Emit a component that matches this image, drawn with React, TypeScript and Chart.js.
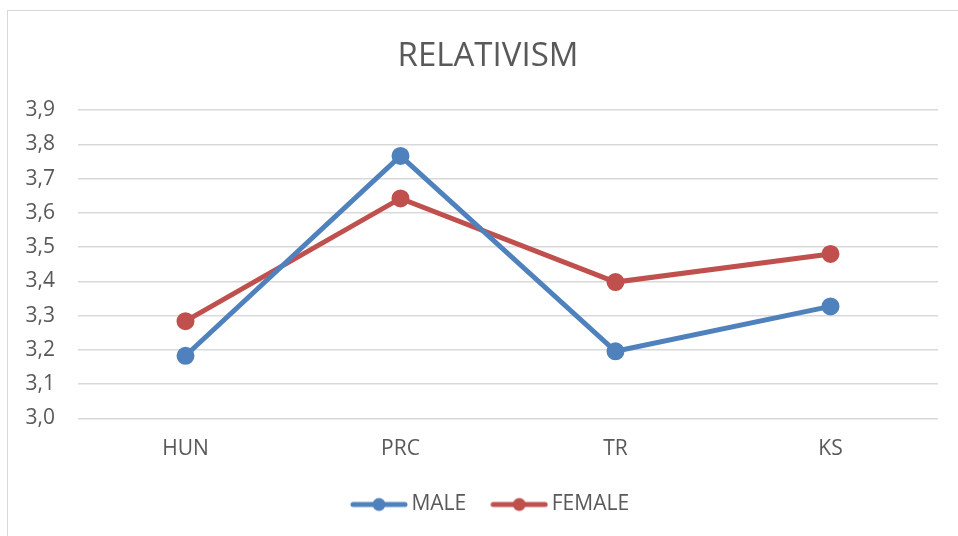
import React, { useEffect, useRef } from "react";
import { Chart, registerables } from "chart.js";

Chart.register(...registerables);

const categories = ["HUN", "PRC", "TR", "KS"];
const maleValues = [3.183, 3.766, 3.196, 3.327];
const femaleValues = [3.284, 3.642, 3.398, 3.48];
const yTicks = [3.0, 3.1, 3.2, 3.3, 3.4, 3.5, 3.6, 3.7, 3.8, 3.9];
const titleText = "RELATIVISM";
const seriesNames = ["MALE", "FEMALE"];

const BLUE = "#4F81BD";
const RED = "#C0504D";
const TEXT = "#595959";
const GRID = "#D9D9D9";
const FONT = "'Open Sans', 'Noto Sans', sans-serif";

function legendIcon(color: string): HTMLCanvasElement {
  const c = document.createElement("canvas");
  c.width = 58;
  c.height = 16;
  const ctx = c.getContext("2d")!;
  ctx.strokeStyle = color;
  ctx.lineWidth = 5;
  ctx.lineCap = "round";
  ctx.beginPath();
  ctx.moveTo(3, 8);
  ctx.lineTo(55, 8);
  ctx.stroke();
  ctx.fillStyle = color;
  ctx.beginPath();
  ctx.arc(29, 8, 6.5, 0, Math.PI * 2);
  ctx.fill();
  return c;
}

// let the y tick labels extend left of the (narrow) y scale box without being clipped,
// and nudge the legend slightly to the right
const layoutTweaks = {
  id: "layoutTweaks",
  afterLayout(chart: any) {
    if (chart.scales.y) chart.scales.y.left = 0;
    if (chart.legend) {
      chart.legend.left += 5;
      chart.legend.right += 5;
    }
  },
};

export default function App() {
  const ref = useRef<HTMLCanvasElement>(null);

  useEffect(() => {
    document.body.style.margin = "0";
    document.body.style.overflow = "hidden";
    const icons = [legendIcon(BLUE), legendIcon(RED)];
    const chart = new Chart(ref.current!, {
      type: "line",
      plugins: [layoutTweaks],
      data: {
        labels: categories,
        datasets: [
          {
            label: seriesNames[0],
            data: maleValues,
            borderColor: BLUE,
            backgroundColor: BLUE,
            borderWidth: 5,
            pointRadius: 6.5,
            pointHoverRadius: 6.5,
            pointStyle: "circle",
          },
          {
            label: seriesNames[1],
            data: femaleValues,
            borderColor: RED,
            backgroundColor: RED,
            borderWidth: 5,
            pointRadius: 6.5,
            pointHoverRadius: 6.5,
            pointStyle: "circle",
          },
        ],
      },
      options: {
        animation: false,
        responsive: false,
        layout: { padding: { left: 38, right: 20, top: 37, bottom: 11 } },
        plugins: {
          tooltip: { enabled: false },
          title: {
            display: true,
            text: titleText,
            color: TEXT,
            font: { family: FONT, size: 33, weight: "normal" },
            padding: { top: 0, bottom: 33.4 },
          },
          legend: {
            position: "bottom",
            labels: {
              usePointStyle: true,
              pointStyleWidth: 44,
              color: TEXT,
              font: { family: FONT, size: 21 },
              padding: 31,
              generateLabels: (chart: any) =>
                chart.data.datasets.map((ds: any, i: number) => ({
                  text: ds.label,
                  fillStyle: ds.borderColor,
                  strokeStyle: ds.borderColor,
                  lineWidth: 0,
                  pointStyle: icons[i],
                  fontColor: TEXT,
                  hidden: false,
                  datasetIndex: i,
                })),
            },
          },
        },
        scales: {
          x: {
            offset: true,
            grid: { display: false, drawTicks: false },
            border: { display: false },
            afterFit: (axis: any) => {
              axis.height = 44.5;
            },
            ticks: {
              color: TEXT,
              font: { family: FONT, size: 21 },
              padding: 18,
            },
          },
          y: {
            min: 3.0,
            max: 3.9,
            afterBuildTicks: (axis: any) => {
              axis.ticks = yTicks.map((v) => ({ value: v }));
            },
            afterFit: (axis: any) => {
              axis.width = 40;
            },
            grid: { color: GRID, lineWidth: 1.5, drawTicks: false },
            border: { display: false },
            ticks: {
              color: TEXT,
              font: { family: FONT, size: 21 },
              padding: 23,
              callback: (v: any) => Number(v).toFixed(1).replace(".", ","),
            },
          },
        },
      },
    });
    return () => chart.destroy();
  }, []);

  return (
    <div style={{ position: "relative", width: 958, height: 536, overflow: "hidden", background: "#fff" }}>
      <div
        style={{
          position: "absolute",
          left: 7,
          top: 10,
          width: 1000,
          height: 600,
          border: "1.5px solid #D9D9D9",
        }}
      />
      <canvas ref={ref} width={958} height={536} style={{ position: "absolute", left: 0, top: 0 }} />
    </div>
  );
}
